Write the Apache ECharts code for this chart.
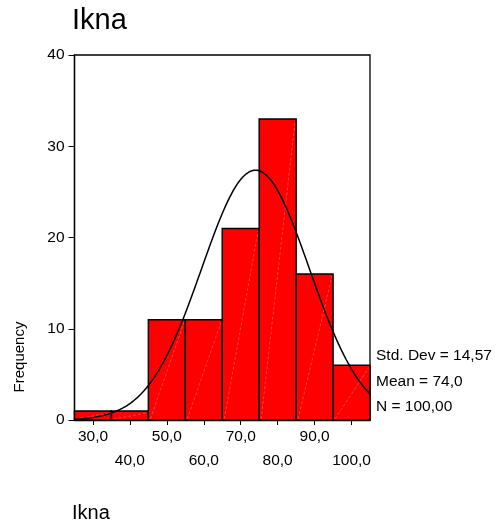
<!DOCTYPE html>
<html><head><meta charset="utf-8">
<script src="https://cdn.jsdelivr.net/npm/echarts@6/dist/echarts.min.js"></script>
<style>html,body{margin:0;padding:0;background:#fff}#c{width:496px;height:529px}</style>
</head><body><div id="c"></div>
<script>
var binCenters = [30, 40, 50, 60, 70, 80, 90, 100];
var binWidth = 10;
var counts = [1, 1, 11, 11, 21, 33, 16, 6];
var xTickLabels = [30, 40, 50, 60, 70, 80, 90, 100];
var yTicks = [0, 10, 20, 30, 40];
var statMean = 74.0, statSD = 14.57, statN = 100;
var statLabels = ['Std. Dev = 14,57', 'Mean = 74,0', 'N = 100,00'];

var histData = binCenters.map(function(c, i){ return [c - binWidth/2, c + binWidth/2, counts[i]]; });
// fitted normal curve from the displayed mean / sd / N
var curve = [];
for (var x = 25; x <= 105.001; x += 0.5) {
  var z = (x - statMean) / statSD;
  curve.push([x, statN * binWidth / (statSD * Math.sqrt(2*Math.PI)) * Math.exp(-0.5*z*z)]);
}
var FONT = '"Liberation Sans", Arial, sans-serif';
var chart = echarts.init(document.getElementById('c'), null, {renderer:'canvas'});
chart.setOption({
  animation: false,
  grid: {left: 74.5, right: 126, top: 55, bottom: 109, show: true, borderColor: '#000', borderWidth: 1.3, backgroundColor: 'transparent'},
  xAxis: {
    type: 'value', min: 25, max: 105,
    axisLine: {show: true, lineStyle: {color: '#000', width: 1.3}},
    splitLine: {show: false},
    axisTick: {show: true, customValues: xTickLabels, length: 5, lineStyle: {color: '#000'}},
    axisLabel: {show: true, customValues: xTickLabels, margin: 5, color: '#000', fontSize: 15.5, fontFamily: FONT,
      lineHeight: 24, verticalAlign: 'top',
      formatter: function(v){ var s = v.toFixed(1).replace('.', ','); return (Math.round(v) % 20 === 10) ? s : '\n' + s; }}
  },
  yAxis: {
    type: 'value', min: 0, max: 40,
    axisLine: {show: true, lineStyle: {color: '#000', width: 1.3}},
    splitLine: {show: false},
    axisTick: {show: true, customValues: yTicks, length: 6, lineStyle: {color: '#000'}},
    axisLabel: {show: true, customValues: yTicks, margin: 10, color: '#000', fontSize: 15.5, fontFamily: FONT}
  },
  series: [{
    type: 'custom',
    data: histData,
    encode: {x: [0, 1], y: 2},
    renderItem: function(params, api){
      var p0 = api.coord([api.value(0), 0]);
      var p1 = api.coord([api.value(1), api.value(2)]);
      return {type: 'group', children: [
        {type: 'rect', shape: {x: p0[0], y: p1[1], width: p1[0]-p0[0], height: p0[1]-p1[1]},
         style: {fill: '#ff0000', stroke: '#000', lineWidth: 1.5}},
        {type: 'line', shape: {x1: p0[0]+2, y1: p0[1]-1, x2: p1[0]-1, y2: p1[1]+2},
         style: {stroke: 'rgba(255,180,180,0.6)', lineWidth: 0.6, lineDash: [3, 2]}}
      ]};
    },
    z: 2
  }, {
    type: 'line', data: curve, showSymbol: false, symbol: 'none', smooth: false,
    lineStyle: {color: '#000', width: 1.5}, z: 5
  }],
  graphic: [
    {type: 'text', left: 72, top: 6, style: {text: 'Ikna', font: '29px ' + FONT, fill: '#000'}},
    {type: 'text', left: 72, top: 503, style: {text: 'Ikna', font: '20px ' + FONT, fill: '#000'}},
    {type: 'text', x: 20, y: 357, rotation: Math.PI/2, style: {text: 'Frequency', font: '15px ' + FONT, fill: '#000', align: 'center', verticalAlign: 'middle'}},
    {type: 'text', x: 376, y: 356, style: {text: statLabels[0], font: '15.5px ' + FONT, fill: '#000', verticalAlign: 'middle'}},
    {type: 'text', x: 376, y: 382, style: {text: statLabels[1], font: '15.5px ' + FONT, fill: '#000', verticalAlign: 'middle'}},
    {type: 'text', x: 376, y: 407, style: {text: statLabels[2], font: '15.5px ' + FONT, fill: '#000', verticalAlign: 'middle'}}
  ]
});
</script></body></html>
